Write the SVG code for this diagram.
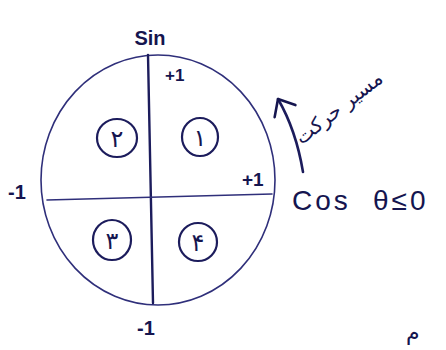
<svg xmlns="http://www.w3.org/2000/svg" width="446" height="350" viewBox="0 0 446 350">
<style>
.ink{fill:none;stroke:#1c1c5c;stroke-linecap:round;stroke-linejoin:round}
.thin{stroke:#2f2f7a;stroke-width:1.6}
.lbl{font-family:"Liberation Sans",sans-serif;fill:#15154f;font-weight:bold}
.fa{font-family:"DejaVu Sans",sans-serif;fill:#15154f}
</style>
<defs>
<marker id="openV" markerWidth="20" markerHeight="30" refX="16" refY="14" orient="auto" markerUnits="userSpaceOnUse">
<path d="M2,2 L16,14 L2,26" fill="none" stroke="#15154f" stroke-width="2.6" stroke-linecap="round" stroke-linejoin="round"/>
</marker>
</defs>
<rect width="446" height="350" fill="#ffffff"/>
<g id="unit-circle">
<ellipse class="ink thin" cx="158" cy="180" rx="117" ry="125"/>
</g>
<g id="axes">
<path class="ink" stroke-width="2.4" d="M148,55 Q150,180 153,303"/>
<path class="ink thin" d="M47,200 L272,194"/>
</g>
<g id="q1"><ellipse class="ink" stroke-width="2.2" cx="200" cy="137" rx="18" ry="19"/><text class="fa" x="200" y="146" font-size="24" text-anchor="middle">۱</text></g>
<g id="q2"><ellipse class="ink" stroke-width="2.2" cx="117" cy="138" rx="20" ry="19"/><text class="fa" x="117" y="147" font-size="24" text-anchor="middle">۲</text></g>
<g id="q3"><ellipse class="ink" stroke-width="2.2" cx="112" cy="240" rx="19" ry="20"/><text class="fa" x="112" y="249" font-size="24" text-anchor="middle">۳</text></g>
<g id="q4"><ellipse class="ink" stroke-width="2.2" cx="198" cy="242" rx="19" ry="19"/><text class="fa" x="198" y="251" font-size="24" text-anchor="middle">۴</text></g>
<g id="labels">
<text class="lbl" x="150" y="45" font-size="20" text-anchor="middle">Sin</text>
<text class="lbl" x="165" y="81" font-size="17">+1</text>
<text class="lbl" x="242" y="186" font-size="19">+1</text>
<text class="lbl" x="8" y="199" font-size="20">-1</text>
<text class="lbl" x="137" y="335" font-size="20">-1</text>
<text y="210" font-size="28" font-family="Liberation Sans,sans-serif" fill="#15154f" letter-spacing="3"><tspan x="292">Cos</tspan><tspan x="373">θ≤0</tspan></text>
</g>
<g id="connectors">
<path class="ink" stroke-width="2.6" d="M303,172 Q296,130 278,99" marker-end="url(#openV)"/>
</g>
<g id="direction-label">
<text class="fa" x="343" y="113" font-size="20" text-anchor="middle" transform="rotate(-38 343 113)">مسیر حرکت</text>
</g>
<g id="stray">
<text class="fa" x="406" y="340" font-size="22">م</text>
</g>
</svg>
